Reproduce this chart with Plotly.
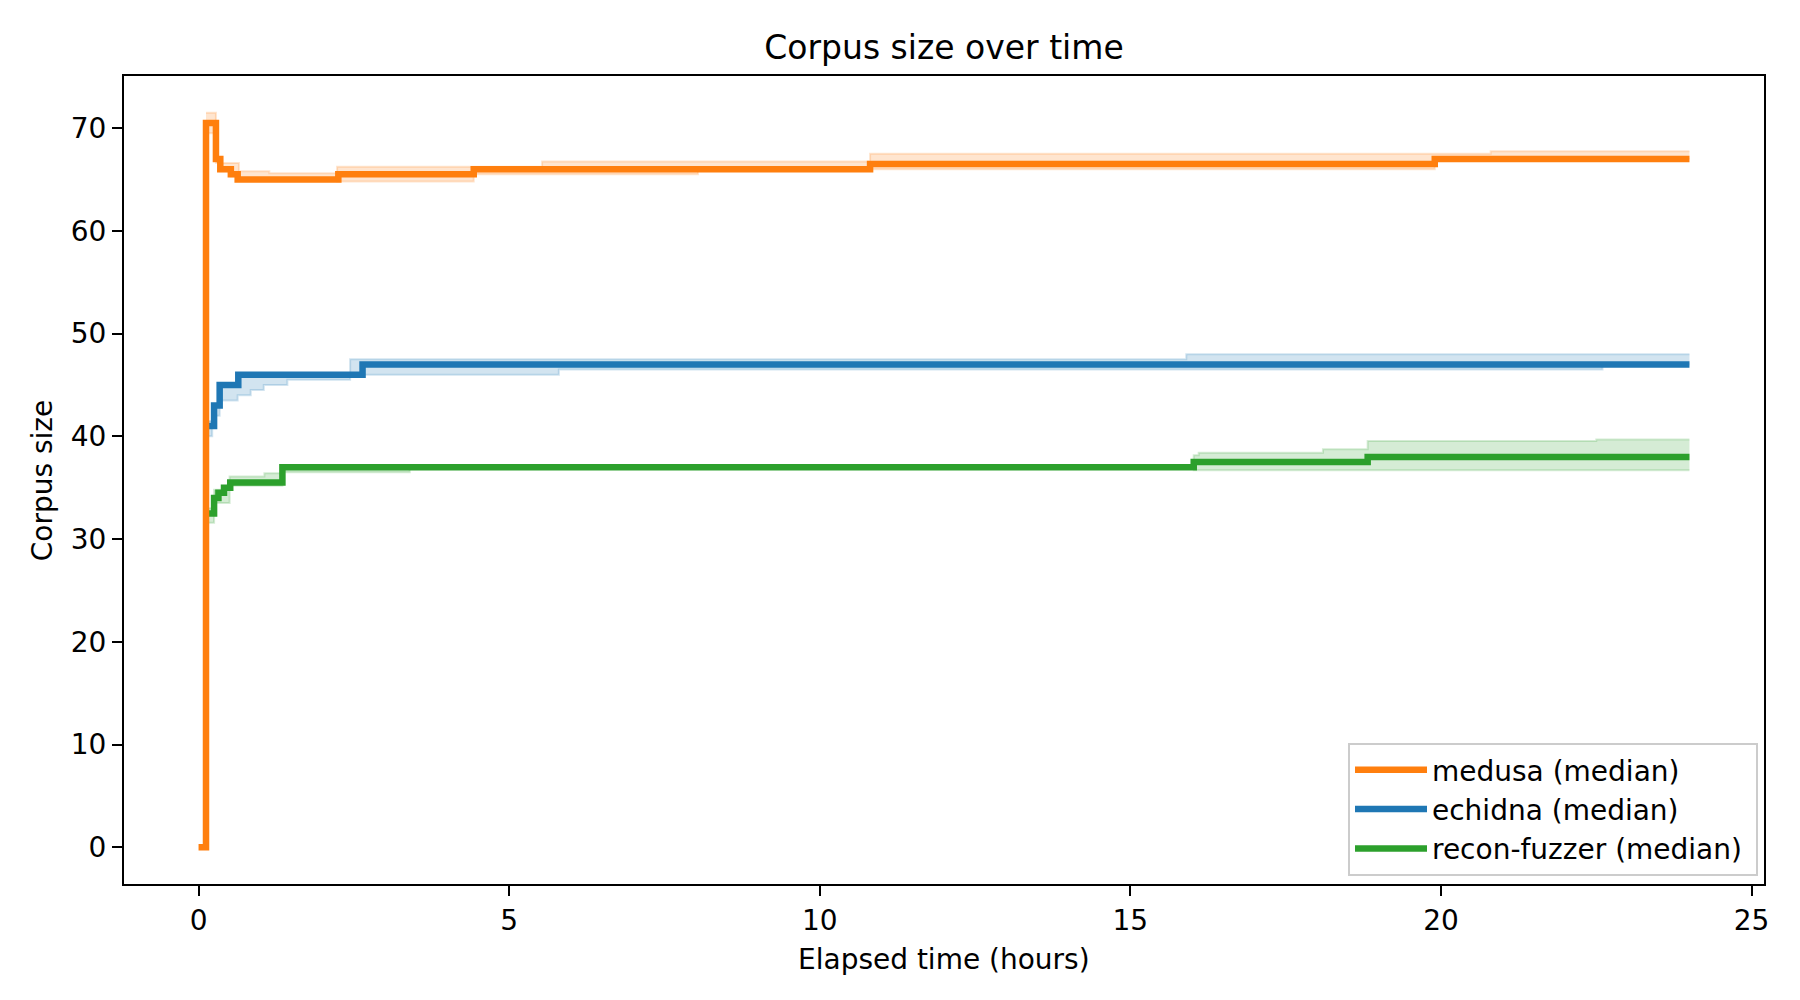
import plotly.graph_objects as go

# Median corpus size (step curves)
medusa_t = [0, 0.12, 0.28, 0.35, 0.52, 0.63, 2.25, 4.43, 10.81, 19.9, 24]
medusa_med = [0, 70.5, 67, 66, 65.5, 65, 65.5, 66, 66.5, 67, 67]

echidna_t = [0.1, 0.25, 0.34, 0.64, 2.64, 24]
echidna_med = [41, 43, 45, 46, 47, 47]

recon_t = [0.1, 0.25, 0.32, 0.41, 0.51, 1.35, 16.02, 18.82, 24]
recon_med = [32.5, 34, 34.5, 35, 35.5, 37, 37.5, 38, 38]

# Shaded bands (lower / upper), step-post
medusa_band_t = [0.12, 0.28, 0.35, 0.52, 0.65, 1.14, 2.23, 4.43, 5.53, 8.04, 10.81, 19.9, 20.8, 24]
medusa_lo = [69.5, 66.8, 65.8, 65.3, 64.9, 64.9, 64.8, 65.5, 65.5, 66, 66, 67, 67, 67]
medusa_hi = [71.5, 66.6, 66.6, 66.6, 65.8, 65.6, 66.25, 66.25, 66.75, 66.75, 67.5, 67.5, 67.75, 67.75]

echidna_band_t = [0.1, 0.22, 0.25, 0.34, 0.63, 0.84, 1.05, 1.43, 2.44, 2.64, 5.8, 15.9, 22.6, 24]
echidna_lo = [40, 41, 42, 43.5, 44, 44.5, 45, 45.5, 46, 46, 46.5, 46.5, 47, 47]
echidna_hi = [41.5, 41.5, 43, 45, 46, 46, 46, 46, 47.5, 47.5, 47.5, 48, 48, 48]

recon_band_t = [0.1, 0.25, 0.5, 1.06, 1.35, 3.4, 16.02, 16.1, 18.1, 18.82, 22.5, 24]
recon_lo = [31.6, 33.5, 35.2, 35.2, 36.5, 37, 36.7, 36.7, 36.7, 36.7, 36.7, 36.7]
recon_hi = [33, 34.8, 36.1, 36.4, 37, 37, 38.15, 38.4, 38.75, 39.55, 39.7, 39.7]

series = [
    ("recon-fuzzer (median)", "#2ca02c", "rgba(44,160,44,0.2)", recon_t, recon_med,
     recon_band_t, recon_lo, recon_hi, 3),
    ("echidna (median)", "#1f77b4", "rgba(31,119,180,0.2)", echidna_t, echidna_med,
     echidna_band_t, echidna_lo, echidna_hi, 2),
    ("medusa (median)", "#ff7f0e", "rgba(255,127,14,0.2)", medusa_t, medusa_med,
     medusa_band_t, medusa_lo, medusa_hi, 1),
]

fig = go.Figure()

# bands first, then the median lines on top
for name, col, fcol, t, med, bt, lo, hi, rank in series:
    fig.add_trace(go.Scatter(x=bt, y=lo, mode="lines", line=dict(color=fcol, width=2, shape="hv"),
                             showlegend=False, hoverinfo="skip"))
    fig.add_trace(go.Scatter(x=bt, y=hi, mode="lines", line=dict(color=fcol, width=2, shape="hv"),
                             fill="tonexty", fillcolor=fcol, showlegend=False, hoverinfo="skip"))

for name, col, fcol, t, med, bt, lo, hi, rank in series:
    fig.add_trace(go.Scatter(x=t, y=med, mode="lines", name=name + "\u00a0", legendrank=rank,
                             line=dict(color=col, width=6.5, shape="hv")))

axis_style = dict(showline=True, mirror=True, linecolor="black", linewidth=2,
                  ticks="outside", ticklen=10, tickwidth=2, tickcolor="black",
                  showgrid=False, zeroline=False, tickfont=dict(size=28, color="black"))

fig.update_xaxes(range=[-1.2, 25.2], dtick=5, tick0=0, **axis_style)
fig.update_yaxes(range=[-3.575, 75.075], dtick=10, tick0=0, **axis_style)

# page body adds ~7px offset, margins compensate for it
fig.update_layout(
    width=1800, height=1000,
    margin=dict(l=116, r=44, t=68, b=124),
    plot_bgcolor="white", paper_bgcolor="white",
    font=dict(family="DejaVu Sans", size=28, color="black"),
    title=dict(text="Corpus size over time", font=dict(size=33, color="black"),
               x=0.5, xref="paper", y=1 - 39 / 1000, yref="container", yanchor="middle"),
    legend=dict(x=1 - 6 / 1640, y=8 / 808, xanchor="right", yanchor="bottom",
                traceorder="normal", itemwidth=72,
                bgcolor="rgba(255,255,255,0.8)", bordercolor="#cccccc", borderwidth=2,
                font=dict(size=28, color="black")),
    annotations=[
        dict(text="Elapsed time (hours)", xref="paper", yref="paper", x=0.5, y=-(958 - 883) / 808,
             xanchor="center", yanchor="middle", showarrow=False, font=dict(size=28)),
        dict(text="Corpus size", xref="paper", yref="paper", x=(41.5 - 123.3) / 1640, y=0.5,
             xanchor="center", yanchor="middle", textangle=-90, showarrow=False, font=dict(size=28)),
    ],
)

fig.write_html("out.html")
